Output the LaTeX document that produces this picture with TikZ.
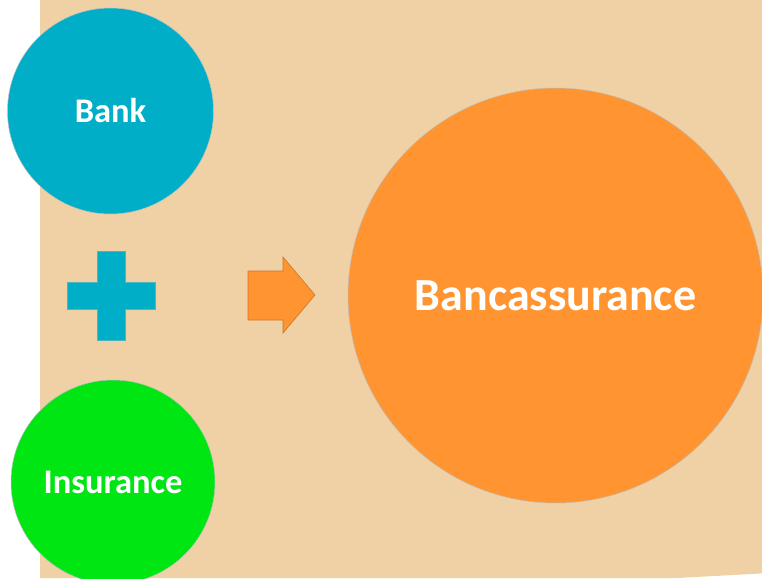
\documentclass[tikz,border=0pt]{standalone}
\usepackage{fontspec}
\setmainfont{Carlito}
\definecolor{tanbg}{HTML}{EFD1A5}
\definecolor{bankblue}{HTML}{00AEC8}
\definecolor{insgreen}{HTML}{00E612}
\definecolor{orangec}{HTML}{FF9430}
\begin{document}
\begin{tikzpicture}[x=1pt,y=-1pt,
  bubble/.style={circle, inner sep=0pt, text=white, font=\bfseries, draw=black!25, line width=0.5pt},
  shapefill/.style={line width=0.6pt}]
\useasboundingbox (0,0) rectangle (762,578);
\clip (0,0) rectangle (762,578);
% background
\fill[tanbg] (40,0) -- (770,0) -- (770,573) -- (677,578) -- (40,578) -- cycle;
% circles
\node[bubble, fill=bankblue, minimum size=206pt, font=\bfseries\fontsize{34.5}{40}\selectfont] (bank) at (110.5,111) {Bank};
\node[bubble, fill=insgreen, minimum size=204pt, font=\bfseries\fontsize{34.5}{40}\selectfont] (ins) at (113,482) {Insurance};
\node[bubble, fill=orangec, minimum size=415pt, font=\bfseries\fontsize{46}{54}\selectfont] (banc) at (555.5,295.5) {Bancassurance};
% plus sign
\fill[bankblue, draw=bankblue!70!tanbg, shapefill]
  (97,251) -- (125,251) -- (125,282) -- (155,282) -- (155,309) -- (125,309)
  -- (125,340) -- (97,340) -- (97,309) -- (67,309) -- (67,282) -- (97,282) -- cycle;
% arrow
\fill[orangec, draw=orangec!80!black, shapefill]
  (248,271) -- (283,271) -- (283,257) -- (315,295) -- (283,333) -- (283,320) -- (248,320) -- cycle;
\end{tikzpicture}
\end{document}
